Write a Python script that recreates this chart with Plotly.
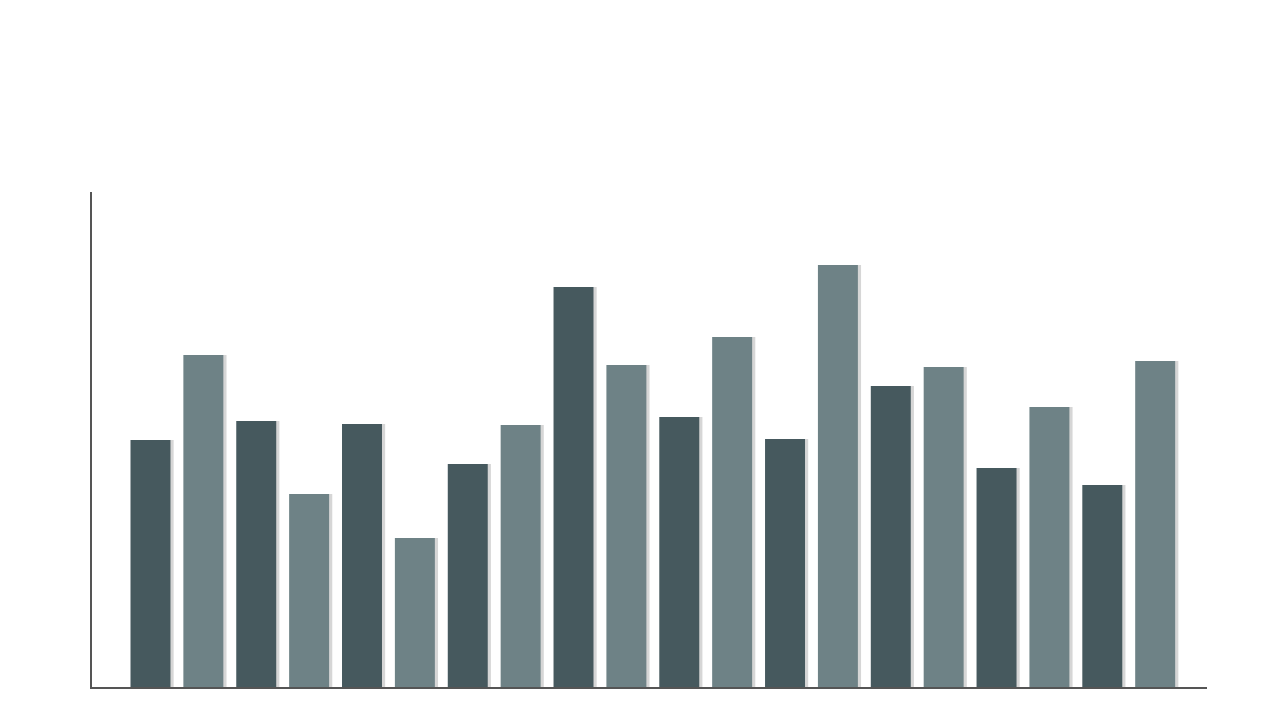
import plotly.graph_objects as go

categories = list(range(20))
values = [247, 332, 266, 193, 263, 149, 223, 262, 400, 322,
          270, 350, 248, 422, 301, 320, 219, 280, 202, 326]
dark = "#46595e"
light = "#6e8286"
colors = [dark if i % 2 == 0 else light for i in categories]

fig = go.Figure()
# soft shadow
fig.add_trace(go.Bar(x=[c + 0.06 for c in categories], y=values, width=0.756,
                     marker=dict(color="rgba(0,0,0,0.16)", line=dict(width=0)),
                     hoverinfo="skip", showlegend=False))
fig.add_trace(go.Bar(x=categories, y=values, width=0.756,
                     marker=dict(color=colors, line=dict(width=0)),
                     showlegend=False))

fig.update_layout(
    width=1280, height=720,
    margin=dict(l=84, r=81, t=184, b=41),
    paper_bgcolor="white", plot_bgcolor="white",
    barmode="overlay",
    xaxis=dict(range=[-1.106, 19.98], showgrid=False, zeroline=False,
               showticklabels=False, ticks="", showline=True,
               linecolor="#555555", linewidth=2),
    yaxis=dict(range=[0, 495], showgrid=False, zeroline=False,
               showticklabels=False, ticks="", showline=True,
               linecolor="#555555", linewidth=2),
)
fig.write_html("out.html")
